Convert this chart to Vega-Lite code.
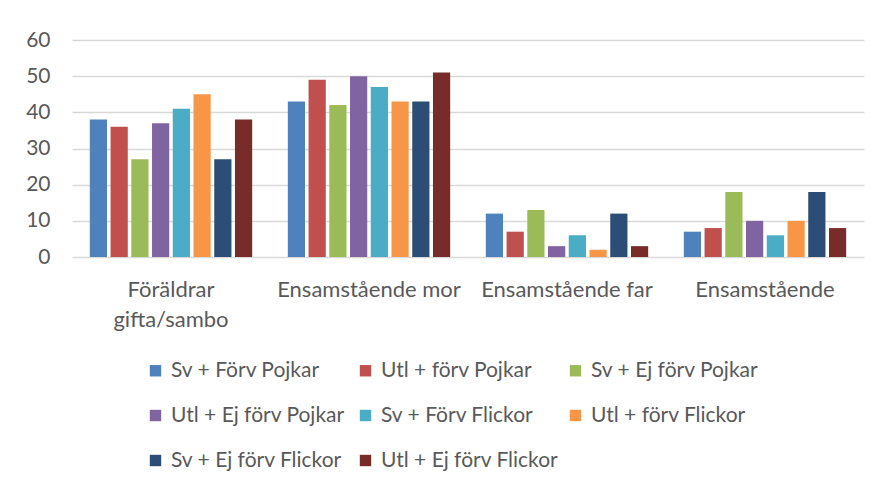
{
  "$schema": "https://vega.github.io/schema/vega-lite/v6.json",
  "width": 792,
  "height": 217,
  "autosize": {"type": "none"},
  "padding": {"left": 72, "top": 40, "right": 20, "bottom": 232},
  "background": "white",
  "config": {
    "font": "Lato, sans-serif",
    "view": {"stroke": null},
    "axis": {"labelColor": "#595959", "labelFontSize": 21, "gridColor": "#d9d9d9", "gridWidth": 1.5, "domain": false, "ticks": false},
    "legend": {"labelColor": "#595959", "labelFontSize": 21}
  },
  "data": {
    "values": [
      {"kategori": "Föräldrar gifta/sambo", "serie": "Sv + Förv Pojkar", "varde": 38},
      {"kategori": "Föräldrar gifta/sambo", "serie": "Utl + förv Pojkar", "varde": 36},
      {"kategori": "Föräldrar gifta/sambo", "serie": "Sv + Ej förv Pojkar", "varde": 27},
      {"kategori": "Föräldrar gifta/sambo", "serie": "Utl + Ej förv Pojkar", "varde": 37},
      {"kategori": "Föräldrar gifta/sambo", "serie": "Sv + Förv Flickor", "varde": 41},
      {"kategori": "Föräldrar gifta/sambo", "serie": "Utl + förv Flickor", "varde": 45},
      {"kategori": "Föräldrar gifta/sambo", "serie": "Sv + Ej förv Flickor", "varde": 27},
      {"kategori": "Föräldrar gifta/sambo", "serie": "Utl + Ej förv Flickor", "varde": 38},
      {"kategori": "Ensamstående mor", "serie": "Sv + Förv Pojkar", "varde": 43},
      {"kategori": "Ensamstående mor", "serie": "Utl + förv Pojkar", "varde": 49},
      {"kategori": "Ensamstående mor", "serie": "Sv + Ej förv Pojkar", "varde": 42},
      {"kategori": "Ensamstående mor", "serie": "Utl + Ej förv Pojkar", "varde": 50},
      {"kategori": "Ensamstående mor", "serie": "Sv + Förv Flickor", "varde": 47},
      {"kategori": "Ensamstående mor", "serie": "Utl + förv Flickor", "varde": 43},
      {"kategori": "Ensamstående mor", "serie": "Sv + Ej förv Flickor", "varde": 43},
      {"kategori": "Ensamstående mor", "serie": "Utl + Ej förv Flickor", "varde": 51},
      {"kategori": "Ensamstående far", "serie": "Sv + Förv Pojkar", "varde": 12},
      {"kategori": "Ensamstående far", "serie": "Utl + förv Pojkar", "varde": 7},
      {"kategori": "Ensamstående far", "serie": "Sv + Ej förv Pojkar", "varde": 13},
      {"kategori": "Ensamstående far", "serie": "Utl + Ej förv Pojkar", "varde": 3},
      {"kategori": "Ensamstående far", "serie": "Sv + Förv Flickor", "varde": 6},
      {"kategori": "Ensamstående far", "serie": "Utl + förv Flickor", "varde": 2},
      {"kategori": "Ensamstående far", "serie": "Sv + Ej förv Flickor", "varde": 12},
      {"kategori": "Ensamstående far", "serie": "Utl + Ej förv Flickor", "varde": 3},
      {"kategori": "Ensamstående", "serie": "Sv + Förv Pojkar", "varde": 7},
      {"kategori": "Ensamstående", "serie": "Utl + förv Pojkar", "varde": 8},
      {"kategori": "Ensamstående", "serie": "Sv + Ej förv Pojkar", "varde": 18},
      {"kategori": "Ensamstående", "serie": "Utl + Ej förv Pojkar", "varde": 10},
      {"kategori": "Ensamstående", "serie": "Sv + Förv Flickor", "varde": 6},
      {"kategori": "Ensamstående", "serie": "Utl + förv Flickor", "varde": 10},
      {"kategori": "Ensamstående", "serie": "Sv + Ej förv Flickor", "varde": 18},
      {"kategori": "Ensamstående", "serie": "Utl + Ej förv Flickor", "varde": 8}
    ]
  },
  "mark": {"type": "bar"},
  "encoding": {
    "x": {
      "field": "kategori", "type": "nominal", "sort": null,
      "scale": {"paddingInner": 0.18, "paddingOuter": 0.09},
      "axis": {"title": null, "labelAngle": 0, "labelPadding": 22, "labelLineHeight": 30, "labelLimit": 250, "labelFontSize": 22,
               "labelExpr": "datum.label == 'Föräldrar gifta/sambo' ? ['Föräldrar', 'gifta/sambo'] : datum.label"}
    },
    "xOffset": {"field": "serie", "type": "nominal", "sort": null, "scale": {"paddingInner": 0.17}},
    "y": {
      "field": "varde", "type": "quantitative",
      "scale": {"domain": [0, 60], "nice": false},
      "axis": {"title": null, "values": [0, 10, 20, 30, 40, 50, 60], "labelPadding": 22}
    },
    "color": {
      "field": "serie", "type": "nominal",
      "scale": {
        "domain": ["Sv + Förv Pojkar", "Utl + Ej förv Pojkar", "Sv + Ej förv Flickor", "Utl + förv Pojkar", "Sv + Förv Flickor", "Utl + Ej förv Flickor", "Sv + Ej förv Pojkar", "Utl + förv Flickor"],
        "range": ["#4F81BD", "#8064A2", "#2C4D75", "#C0504D", "#4BACC6", "#772C2A", "#9BBB59", "#F79646"]
      },
      "legend": {
        "title": null, "orient": "none", "legendX": 73, "legendY": 320, "columns": 3,
        "symbolType": "square", "symbolSize": 130, "symbolStrokeWidth": 0, "labelOffset": 5,
        "rowPadding": 23, "columnPadding": 6, "gridAlign": "all", "labelLimit": 250
      }
    }
  }
}
